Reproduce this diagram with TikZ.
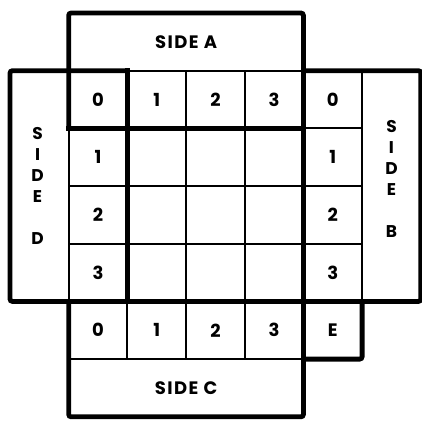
\documentclass[tikz,border=0pt]{standalone}
\usepackage{fontspec}
\setsansfont{Poppins}[LetterSpace=8]
\usetikzlibrary{positioning}

\begin{document}
\begin{tikzpicture}[x=58.7pt,y=-57.7pt,
    font=\sffamily\bfseries\fontsize{18}{18}\selectfont,
    thn/.style={line width=1.8pt},
    thk/.style={line width=4.8pt,rounded corners=2.5pt,line cap=rect},
    num/.style={inner sep=0pt},
    side/.style={inner sep=0pt,align=center,
      font=\sffamily\bfseries\fontsize{17}{21}\selectfont}]
  \useasboundingbox (-0.17,-0.225) rectangle (7.02,7.055);
  % thin grid lines
  \foreach \c in {3,4} \draw[thn] (\c,1) -- (\c,6);
  \draw[thn] (2,5) -- (2,6);
  \foreach \r in {3,4} \draw[thn] (1,\r) -- (6,\r);
  \draw[thn] (1,2) -- (1,5);
  \draw[thn] (2,1) -- (5,1);
  \draw[thn] (5,2) -- (6,2);
  \draw[thn] (6,1) -- (6,5);
  \draw[thn] (1,6) -- (5,6);
  % thick outlines
  \draw[thk] (1,2) -- (1,0) -- (5,0) -- (5,7) -- (1,7) -- (1,5);
  \draw[thk] (2,1) -- (0,1) -- (0,5) -- (7,5) -- (7,1) -- (5,1);
  \draw[thk] (1,2) -- (5,2);
  \draw[thk] (2,1) -- (2,5);
  \draw[thk] (6,5) -- (6,6) -- (5,6);
  % labels
  \node[num] (sideA) at (3,0.5) {SIDE A};
  \node[num] (sideC) at (3,6.5) {SIDE C};
  \node[side] (sideD) at (0.47,3.0) {S\\I\\D\\E\\ \\D};
  \node[side] (sideB) at (6.5,2.88) {S\\I\\D\\E\\ \\B};
  \foreach \i in {0,...,3} {
    \node[num] (a\i) at (1.5+\i,1.5) {\i};
    \node[num] (b\i) at (5.5,1.5+\i) {\i};
    \node[num] (c\i) at (1.5+\i,5.5) {\i};
  }
  \foreach \i in {1,2,3}
    \node[num] (d\i) at (1.5,1.5+\i) {\i};
  \node[num] (e) at (5.5,5.5) {E};
\end{tikzpicture}
\end{document}
